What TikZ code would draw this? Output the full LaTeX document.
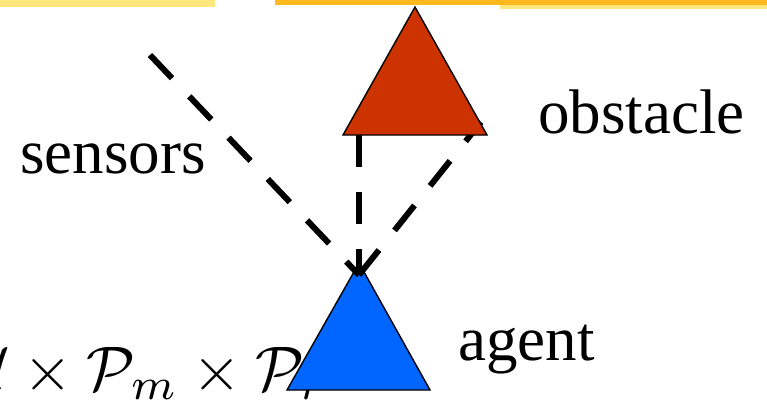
\documentclass[tikz,border=0pt]{standalone}
\usepackage{fontspec}
\setmainfont{Liberation Serif}
\usetikzlibrary{positioning}
\definecolor{obstred}{RGB}{204,51,0}
\definecolor{agentblue}{RGB}{0,102,255}
\definecolor{barorange}{RGB}{255,185,30}
\definecolor{barpale}{RGB}{255,230,125}

\begin{document}
\begin{tikzpicture}[
  x=1pt,y=-1pt,
  lbl/.style={font=\fontsize{63}{70}\selectfont,inner sep=0pt,anchor=base west},
  mathlbl/.style={font=\fontsize{10}{12}\selectfont,scale=6.3,inner sep=0pt,anchor=base west},
  tri/.style={draw=black,line width=1.4pt,line join=miter},
  ray/.style={line width=6pt,dash pattern=on 32pt off 25pt},
]
\useasboundingbox (0,0) rectangle (767,404);
\clip (0,0) rectangle (767,404);

% ===== header bar =====
\fill[barpale] (0,0) rectangle (215,7);
\fill[barorange] (275,0) rectangle (767,5);
\fill[barpale] (500,5) rectangle (767,9);

% ===== corners and ray ends =====
\coordinate (obstop) at (415,7);
\coordinate (obsleft) at (343,135);
\coordinate (obsright) at (487,135);
\coordinate (obsfoot) at (359,135);
\coordinate (obscorner) at (481,122);
\coordinate (agtop) at (359,263);
\coordinate (agleft) at (287,390);
\coordinate (agright) at (430,390);
\coordinate (hit) at (359,275);
\coordinate (farend) at (150,55);

% ===== state space (partly hidden) =====
\node[mathlbl] (space) at (-37,390) {$\mathcal{U}\times\mathcal{P}_m\times\mathcal{P}_r$};

% ===== agent =====
\filldraw[tri,fill=agentblue] (agtop) -- (agleft) -- (agright) -- cycle;

% ===== sensor rays =====
\draw[ray] (farend) -- (hit);
\draw[ray] (obsfoot) -- (hit);
\draw[ray] (hit) -- (obscorner);

% ===== obstacle =====
\filldraw[tri,fill=obstred] (obstop) -- (obsleft) -- (obsright) -- cycle;

% ===== labels =====
\node[lbl] (sens) at (20,173) {sensors};
\node[lbl] (obs) at (538,133) {obstacle};
\node[lbl] (agt) at (458,360) {agent};
\end{tikzpicture}
\end{document}
